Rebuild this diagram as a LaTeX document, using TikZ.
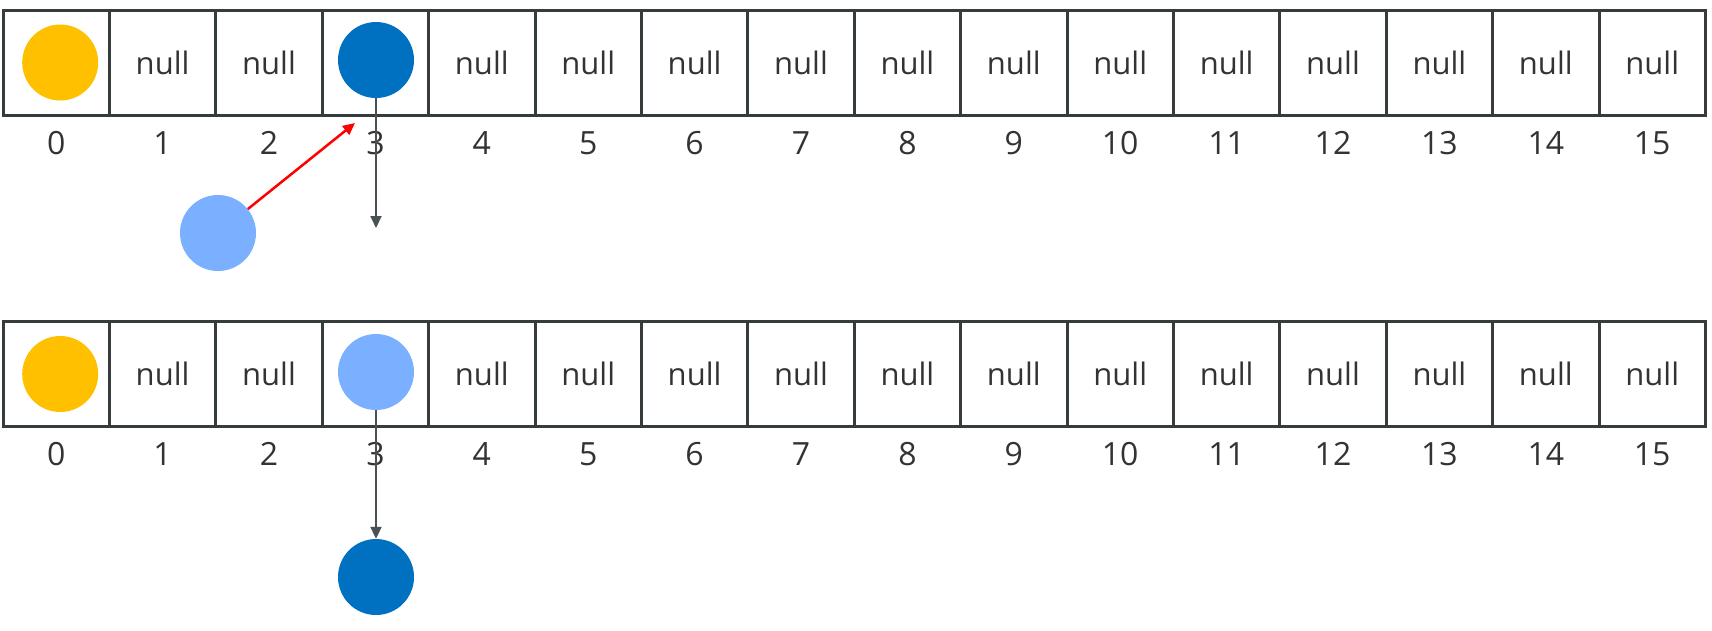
\documentclass[tikz,border=0pt]{standalone}
\usepackage{fontspec}
\setmainfont{Open Sans}
\usetikzlibrary{arrows.meta,positioning}
\definecolor{linegray}{HTML}{363B3B}
\definecolor{textgray}{HTML}{333333}
\definecolor{arrowgray}{HTML}{4A5152}
\definecolor{gold}{HTML}{FFC000}
\definecolor{deepblue}{HTML}{0070C0}
\definecolor{skyblue}{HTML}{7AB0FF}
\tikzset{
cell/.style={draw=linegray, line width=3pt, minimum width=106.4pt, minimum height=105pt, inner sep=0pt, text=textgray, font=\fontsize{31}{36}\selectfont}, % one slot of the table
idx/.style={text=textgray, anchor=base, font=\fontsize{32}{36}\selectfont}, % index under a slot
ball/.style={circle, minimum size=76pt, inner sep=0pt}, % an entry
>={Triangle[length=12pt,width=11pt]},
}

\begin{document}
\begin{tikzpicture}[x=1pt,y=-1pt]
   \useasboundingbox (0,0) rectangle (1712,630);
   % table before
   \foreach \i in {0,...,15}{
      \node[cell] (t_\i) at (56.2+106.4*\i,62.5) {\ifnum\i=0 \else\ifnum\i=3 \else null\fi\fi};
      \node[idx] (it_\i) at ([yshift=-38pt]t_\i.south) {\i};
   }
   % table after
   \foreach \i in {0,...,15}{
      \node[cell] (b_\i) at (56.2+106.4*\i,374) {\ifnum\i=0 \else\ifnum\i=3 \else null\fi\fi};
      \node[idx] (ib_\i) at ([yshift=-37pt]b_\i.south) {\i};
   }
   \node[ball, fill=gold] (y_t) at ([xshift=4pt]t_0.center) {};
   \node[ball, fill=deepblue] (d_t) at (376,60) {};
   \node[ball, fill=skyblue] (l_t) at (218,233) {};
   \coordinate (r_t) at (355,123);
   \coordinate (g_t) at (376,228);
   \draw[->, red, line width=2.5pt] (l_t) -- (r_t);
   \draw[->, arrowgray, line width=2pt] (d_t.south) -- (g_t);

   \node[ball, fill=gold] (y_b) at ([xshift=4pt]b_0.center) {};
   \node[ball, fill=skyblue] (l_b) at (376,372) {};
   \node[ball, fill=deepblue] (d_b) at (376,577) {};
   \draw[->, arrowgray, line width=2pt] (l_b.south) -- (d_b.north);
\end{tikzpicture}
\end{document}
